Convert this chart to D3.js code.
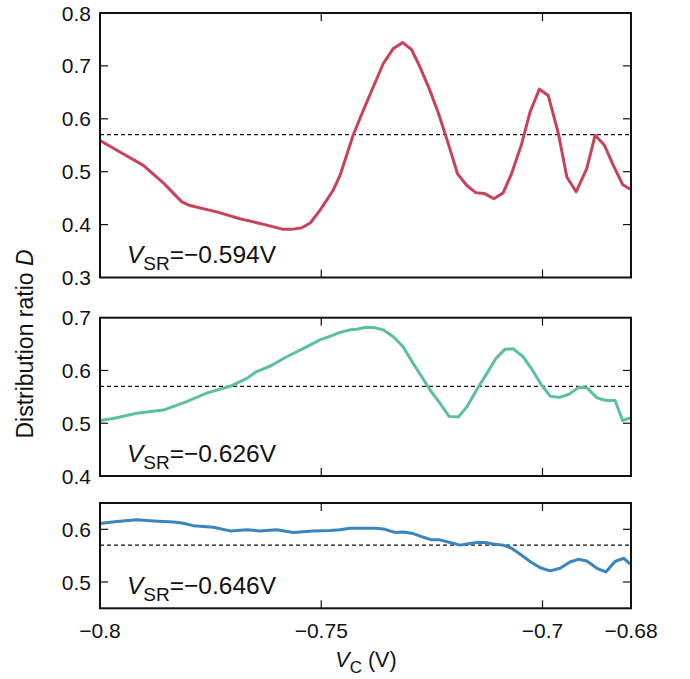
<!DOCTYPE html>
<html>
<head>
<meta charset="utf-8">
<script src="https://cdn.jsdelivr.net/npm/d3@7"></script>
<style>
  body { margin: 0; background: #fff; }
  text { font-family: "Liberation Sans", Arial, sans-serif; fill: #111; }
</style>
</head>
<body>
<div id="chart"></div>
<script>
const width = 690;
const height = 679;

// x values (V_C, volts) and D values for each panel
const x_top = [-0.8, -0.7959, -0.7902, -0.7857, -0.7834, -0.7815, -0.7797, -0.7736, -0.7684, -0.7623, -0.7586, -0.7567, -0.7544, -0.7525, -0.7503, -0.7473, -0.7458, -0.7443, -0.7428, -0.7405, -0.7382, -0.736, -0.7337, -0.7316, -0.7296, -0.7277, -0.7256, -0.7235, -0.7213, -0.7192, -0.7171, -0.715, -0.7132, -0.711, -0.7089, -0.707, -0.7047, -0.7028, -0.7007, -0.6987, -0.6964, -0.6945, -0.6924, -0.69, -0.6881, -0.686, -0.684, -0.6819, -0.6802];
const d_top = [0.559, 0.539, 0.512, 0.479, 0.459, 0.443, 0.436, 0.424, 0.411, 0.399, 0.391, 0.391, 0.394, 0.403, 0.427, 0.465, 0.492, 0.530, 0.569, 0.616, 0.661, 0.704, 0.733, 0.744, 0.731, 0.698, 0.657, 0.610, 0.553, 0.496, 0.474, 0.460, 0.459, 0.449, 0.460, 0.496, 0.553, 0.613, 0.656, 0.644, 0.572, 0.490, 0.462, 0.506, 0.569, 0.550, 0.512, 0.476, 0.467];

const x_mid = [-0.8, -0.797, -0.7917, -0.7857, -0.7804, -0.7759, -0.7706, -0.7668, -0.7646, -0.7616, -0.7578, -0.754, -0.7503, -0.7473, -0.7458, -0.7435, -0.742, -0.7398, -0.7379, -0.736, -0.7337, -0.7315, -0.7292, -0.7273, -0.7254, -0.7232, -0.7211, -0.719, -0.7171, -0.7149, -0.7126, -0.7105, -0.7085, -0.7066, -0.7045, -0.7023, -0.7002, -0.6982, -0.6962, -0.694, -0.6918, -0.6899, -0.6877, -0.6856, -0.6836, -0.6819, -0.6802];
const d_mid = [0.505, 0.509, 0.519, 0.525, 0.541, 0.557, 0.570, 0.585, 0.598, 0.608, 0.626, 0.642, 0.658, 0.667, 0.672, 0.677, 0.678, 0.682, 0.681, 0.677, 0.664, 0.645, 0.613, 0.588, 0.563, 0.538, 0.513, 0.512, 0.531, 0.563, 0.594, 0.623, 0.640, 0.641, 0.627, 0.601, 0.572, 0.551, 0.549, 0.555, 0.568, 0.567, 0.548, 0.543, 0.543, 0.505, 0.510];

const x_bot = [-0.8, -0.7962, -0.7917, -0.7879, -0.7834, -0.7815, -0.7789, -0.7744, -0.7706, -0.7668, -0.7638, -0.7601, -0.7563, -0.7518, -0.748, -0.7458, -0.7435, -0.7412, -0.7375, -0.7356, -0.7333, -0.7315, -0.7292, -0.7273, -0.725, -0.7232, -0.7209, -0.7186, -0.7171, -0.7149, -0.7130, -0.7111, -0.7089, -0.707, -0.7051, -0.7028, -0.7005, -0.6983, -0.696, -0.6938, -0.6919, -0.69, -0.6877, -0.6857, -0.6836, -0.6816, -0.6802];
const d_bot = [0.611, 0.615, 0.618, 0.616, 0.614, 0.612, 0.607, 0.604, 0.597, 0.599, 0.597, 0.599, 0.594, 0.597, 0.598, 0.599, 0.602, 0.602, 0.602, 0.600, 0.594, 0.595, 0.592, 0.586, 0.580, 0.580, 0.575, 0.570, 0.572, 0.575, 0.575, 0.572, 0.570, 0.564, 0.553, 0.539, 0.527, 0.521, 0.526, 0.538, 0.543, 0.540, 0.526, 0.519, 0.539, 0.545, 0.534];

const labels = ['\u22120.594V', '\u22120.626V', '\u22120.646V'];
const x_ticks = [-0.8, -0.75, -0.7, -0.68];
const x_tick_labels = ['\u22120.8', '\u22120.75', '\u22120.7', '\u22120.68'];
const threshold = 0.57;

const panels = [
    { xs: x_top, ds: d_top, domain: [0.3, 0.8], ticks: [0.3, 0.4, 0.5, 0.6, 0.7, 0.8], top: 13, bottom: 277.5, color: '#c8435a', label: labels[0] },
    { xs: x_mid, ds: d_mid, domain: [0.4, 0.7], ticks: [0.4, 0.5, 0.6, 0.7], top: 317.7, bottom: 476, color: '#5cbf9e', label: labels[1] },
    { xs: x_bot, ds: d_bot, domain: [0.45, 0.65], ticks: [0.5, 0.6], top: 503, bottom: 608.3, color: '#3a85bd', label: labels[2] }
];

const left = 100, right = 631;
const tick_len = 8;
const tick_font = '21px';

const svg = d3.select('#chart').append('svg')
    .attr('width', width)
    .attr('height', height);

const x = d3.scaleLinear().domain([-0.8, -0.68]).range([left, right]);

panels.forEach(function (p, i) {
    const y = d3.scaleLinear().domain(p.domain).range([p.bottom, p.top]);
    const g = svg.append('g');
    const inside = p.ticks.filter(t => t > p.domain[0] + 1e-9 && t < p.domain[1] - 1e-9);

    // y ticks inward, both sides
    g.selectAll('.ytl').data(inside)
        .enter().append('line')
        .attr('x1', left).attr('x2', left + tick_len)
        .attr('y1', d => y(d)).attr('y2', d => y(d))
        .attr('stroke', '#111').attr('stroke-width', 1.2);
    g.selectAll('.ytr').data(inside)
        .enter().append('line')
        .attr('x1', right).attr('x2', right - tick_len)
        .attr('y1', d => y(d)).attr('y2', d => y(d))
        .attr('stroke', '#111').attr('stroke-width', 1.2);

    g.selectAll('.ylab').data(p.ticks)
        .enter().append('text')
        .attr('x', left - 9)
        .attr('y', d => y(d))
        .attr('dy', '0.36em')
        .attr('text-anchor', 'end')
        .style('font-size', tick_font)
        .text(d => d.toFixed(1));

    // x ticks inward at top and bottom (only interior ones)
    const inner = x_ticks.filter(t => t > -0.8 && t < -0.68);
    g.selectAll('.xtb').data(inner).enter().append('line')
        .attr('x1', d => x(d)).attr('x2', d => x(d))
        .attr('y1', p.bottom).attr('y2', p.bottom - tick_len)
        .attr('stroke', '#111').attr('stroke-width', 1.2);
    g.selectAll('.xtt').data(inner).enter().append('line')
        .attr('x1', d => x(d)).attr('x2', d => x(d))
        .attr('y1', p.top).attr('y2', p.top + tick_len)
        .attr('stroke', '#111').attr('stroke-width', 1.2);

    // dashed threshold
    g.append('line')
        .attr('x1', left).attr('x2', right)
        .attr('y1', y(threshold)).attr('y2', y(threshold))
        .attr('stroke', '#111').attr('stroke-width', 1.2)
        .attr('stroke-dasharray', '4,3');

    const line = d3.line()
        .x((d, j) => x(p.xs[j]))
        .y(d => y(d));

    g.append('path')
        .datum(p.ds)
        .attr('d', line)
        .attr('fill', 'none')
        .attr('stroke', p.color)
        .attr('stroke-width', 3)
        .attr('stroke-linejoin', 'round');

    // frame
    g.append('rect')
        .attr('x', left).attr('y', p.top)
        .attr('width', right - left).attr('height', p.bottom - p.top)
        .attr('fill', 'none')
        .attr('stroke', '#111').attr('stroke-width', 2);

    // annotation V_SR = ...
    const t = g.append('text')
        .attr('x', 127)
        .attr('y', p.bottom - 14.5)
        .style('font-size', '24.5px');
    t.append('tspan').style('font-style', 'italic').text('V');
    t.append('tspan').attr('dy', 7).style('font-size', '19px').text('SR');
    t.append('tspan').attr('dy', -7).text('=' + p.label);
});

// x tick labels under last panel
const last = panels[panels.length - 1];
svg.selectAll('.xlab').data(x_ticks).enter().append('text')
    .attr('x', d => x(d))
    .attr('y', last.bottom + 30)
    .attr('text-anchor', 'middle')
    .style('font-size', tick_font)
    .text((d, i) => x_tick_labels[i]);

// x axis title
const xt = svg.append('text')
    .attr('x', 366)
    .attr('y', 667)
    .attr('text-anchor', 'middle')
    .style('font-size', '21.5px');
xt.append('tspan').style('font-style', 'italic').text('V');
xt.append('tspan').attr('dy', 6).style('font-size', '17px').text('C');
xt.append('tspan').attr('dy', -6).text(' (V)');

// y axis title
const yt = svg.append('text')
    .attr('transform', 'translate(33,344) rotate(-90)')
    .attr('text-anchor', 'middle')
    .style('font-size', '23px');
yt.append('tspan').text('Distribution ratio ');
yt.append('tspan').style('font-style', 'italic').text('D');
</script>
</body>
</html>
